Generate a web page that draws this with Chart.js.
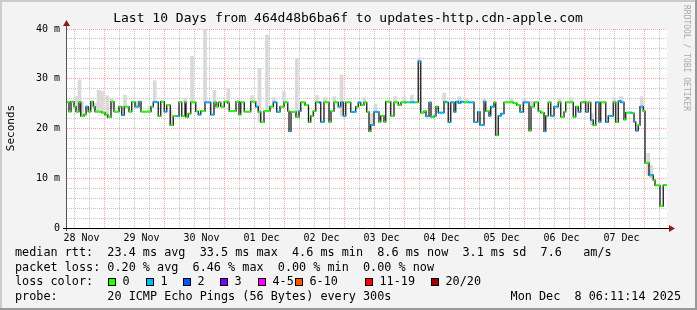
<!DOCTYPE html>
<html>
<head>
<meta charset="utf-8">
<script src="https://cdn.jsdelivr.net/npm/chart.js@4.4.0/dist/chart.umd.min.js"></script>
<style>
  html, body { margin: 0; padding: 0; background: #f3f3f3; }
</style>
</head>
<body>
<canvas id="grafico" width="697" height="310"></canvas>
<script>
// horas desde o inicio (28 Nov 06:11), mediana em ms, perda (pacotes de 20)
const tempos = [0, 0.8, 1.6, 2.8, 3.6, 4.8, 5.5, 6.8, 7.6, 8.5, 9.5, 10.5, 11.2, 13.9, 15.2, 16.3, 17.6, 18.8, 20.8, 21.9,
  22.9, 24.8, 25.9, 27.2, 28.8, 29.6, 33.6, 34.5, 36.5, 37.5, 38.9, 39.9, 41.3, 42.5, 43.9, 44.8, 45.9, 47.2, 47.6, 48.5,
  49.5, 51.5, 52.5, 53.5, 55.2, 57.5, 58.8, 59.6, 60.5, 61.5, 62.9, 64.3, 64.9, 67.6, 68.8, 69.5, 70.9, 73.5, 75.5, 76.5,
  77.5, 78.8, 81.2, 82.5, 83.9, 85.2, 86.8, 88.3, 88.8, 89.6, 91.6, 92.8, 93.5, 95.2, 96.6, 97.5, 98.5, 99.5, 100.8, 101.5,
  102.8, 104.8, 105.6, 106.8, 108.5, 109.5, 110.5, 111.5, 113.5, 115.5, 116.5, 117.5, 118.8, 119.9, 120.8, 121.5, 122.8, 124.8, 125.5, 126.8,
  127.5, 129.5, 130.8, 132.5, 133.6, 135.2, 135.9, 137.2, 139.2, 140.5, 141.5, 142.8, 143.6, 144.8, 145.6, 146.8, 147.6, 148.5, 150.8, 151.5,
  152.5, 153.5, 154.8, 155.5, 156.5, 157.5, 158.8, 160.3, 162.8, 164.3, 165.2, 166.8, 167.5, 168.8, 169.5, 170.8, 171.5, 172.5, 173.6, 174.8,
  178.5, 179.9, 181.2, 182.5, 184.8, 185.6, 186.9, 188.5, 189.5, 190.8, 191.5, 192.5, 193.5, 194.8, 196.5, 197.5, 198.8, 199.5, 202.5, 203.5,
  204.5, 205.5, 206.8, 207.5, 208.5, 209.5, 210.5, 211.5, 212.8, 213.5, 215.5, 216.5, 218.5, 219.5, 220.5, 221.5, 222.8, 223.5, 225.2, 226.1,
  226.8, 227.5, 228.5, 229.2, 230.5, 231.2, 232.8, 234.5, 235.2, 237.2, 238.5];
const mediana = [25.3, 23.4, 25.4, 24.4, 23.4, 25.3, 22.5, 22.8, 24.4, 23.4, 25.4, 24.4, 23.4, 23.2, 22.8, 22.3, 25.4, 23.4, 24.4, 22.7,
  24.4, 23.4, 25.3, 24.4, 25.4, 23.4, 24.4, 25.3, 22.5, 25.4, 23.4, 24.7, 20.7, 22.5, 22.5, 25.3, 22.5, 25.3, 22.35, 23.0,
  25.25, 23.45, 22.8, 23.5, 25.25, 22.8, 25.25, 24.4, 25.25, 24.4, 25.4, 25.1, 23.5, 25.4, 22.8, 25.25, 23.4, 25.4, 24.4, 23.35,
  21.3, 23.5, 24.4, 25.25, 23.35, 24.4, 25.25, 23.5, 19.45, 23.35, 22.35, 23.5, 25.25, 24.7, 21.3, 22.55, 23.5, 25.25, 25.25, 21.35,
  25.25, 21.35, 23.5, 25.25, 24.4, 25.25, 22.55, 25.25, 23.35, 24.4, 25.25, 24.7, 25.25, 23.35, 19.45, 20.7, 23.35, 21.35, 22.55, 21.35,
  25.4, 22.55, 25.25, 24.7, 25.25, 25.25, 25.25, 25.25, 25.25, 33.5, 23.2, 23.5, 22.45, 25.25, 22.35, 22.55, 24.4, 23.2, 25.4, 25.25,
  21.3, 25.25, 23.35, 25.4, 25.1, 25.4, 25.25, 25.25, 21.3, 23.35, 20.7, 25.4, 23.5, 22.55, 24.4, 25.25, 18.65, 22.55, 23.0, 25.25,
  25.1, 24.7, 23.35, 25.25, 19.6, 24.4, 25.25, 23.5, 23.2, 19.45, 22.55, 25.25, 22.55, 24.4, 25.25, 22.35, 23.35, 25.25, 22.35, 24.4,
  23.35, 25.25, 25.4, 23.35, 25.25, 21.7, 20.7, 25.25, 21.35, 25.25, 21.3, 22.55, 25.25, 21.3, 25.5, 25.25, 21.8, 23.2, 23.2, 23.1,
  21.35, 19.6, 20.7, 24.4, 23.5, 13.1, 10.6, 9.6, 8.55, 4.4, 8.6];
const perda = [0, 0, 0, 0, 0, 0, 0, 0, 1, 0, 0, 0, 0, 0, 0, 0, 0, 0, 0, 1,
  0, 0, 0, 1, 1, 0, 0, 1, 0, 0, 1, 0, 0, 0, 1, 0, 0, 0, 0, 0,
  0, 0, 1, 0, 1, 1, 0, 0, 0, 0, 0, 0, 0, 0, 0, 0, 0, 0, 1, 0,
  0, 0, 0, 1, 1, 0, 0, 0, 1, 0, 0, 1, 0, 0, 0, 0, 0, 0, 2, 1,
  0, 0, 0, 0, 1, 1, 1, 0, 1, 0, 1, 0, 0, 0, 0, 1, 1, 0, 0, 0,
  0, 0, 0, 0, 0, 1, 0, 1, 0, 1, 0, 0, 1, 1, 0, 1, 0, 1, 0, 1,
  1, 1, 1, 1, 1, 1, 0, 1, 1, 1, 1, 1, 0, 1, 1, 0, 0, 1, 1, 0,
  0, 0, 1, 1, 0, 0, 0, 0, 0, 1, 0, 0, 1, 1, 0, 0, 0, 0, 0, 0,
  1, 0, 0, 1, 0, 1, 0, 1, 1, 0, 1, 1, 0, 0, 1, 1, 0, 0, 1, 0,
  1, 1, 0, 1, 0, 0, 1, 0, 0, 0, 0];

// fumaça: dispersao dos pings (min / max em ms)
const fumacaT = [3.8, 5.0, 6.0, 11.6, 12.6, 14.0, 16.1, 17.9, 23.2, 27.9, 33.0, 35.1, 41.5, 47.2, 50.0, 55.2, 59.0, 64.5, 74.0, 77.0,
  80.0, 82.8, 86.8, 91.9, 93.4, 100.0, 103.2, 106.9, 109.8, 118.9, 122.0, 123.4, 131.2, 134.9, 138.0, 140.8, 150.9, 157.0, 159.9, 166.9,
  177.9, 183.0, 185.9, 197.0, 201.6, 210.0, 218.9, 221.6, 229.9, 232.5, 233.6];
const fumacaMin = [23.4, 24.0, 22.5, 23.4, 23.4, 23.2, 22.3, 24.0, 24.4, 24.4, 23.4, 25.3, 20.7, 25.3, 25.3, 25.3, 25.3, 25.1, 25.4, 21.3,
  23.5, 25.3, 25.3, 22.4, 23.5, 25.3, 25.3, 25.3, 22.6, 25.3, 20.7, 23.4, 25.3, 25.3, 25.3, 33.5, 25.4, 25.4, 25.3, 25.4,
  25.2, 25.3, 24.4, 25.3, 25.3, 20.7, 25.3, 25.3, 24.4, 10.6, 10.0];
const fumacaMax = [26.4, 29.8, 25.4, 25.1, 27.7, 27.5, 26.6, 26.1, 26.7, 25.4, 24.4, 29.6, 23.7, 26.1, 34.5, 40, 27.7, 28.0, 26.6, 32.1,
  38.8, 26.2, 27.4, 34.1, 24.1, 26.6, 26.2, 26.4, 30.8, 26.2, 23.0, 24.9, 26.4, 26.4, 26.7, 34.1, 27.1, 26.4, 25.9, 26.1,
  25.9, 26.1, 25.5, 26.0, 26.2, 23.0, 26.2, 26.4, 26.4, 15.0, 12.6];

const dias = ['28 Nov', '29 Nov', '30 Nov', '01 Dec', '02 Dec', '03 Dec', '04 Dec', '05 Dec', '06 Dec', '07 Dec'];
const meioDia = 5.82; // primeiro meio-dia (horas apos o inicio)
const ticksY = [0, 2, 4, 6, 8, 10, 12, 14, 16, 18, 20, 22, 24, 26, 28, 30, 32, 34, 36, 38, 40];

const perdaRotulos = ['0', '1', '2', '3', '4-5', '6-10', '11-19', '20/20'];
const coresPerda = ['#26ff00', '#00b8ff', '#0059ff', '#7e00ff', '#ff00ff', '#ff5500', '#ff0000', '#a10000'];

const FIM = 240;
const MONO = '"DejaVu Sans Mono", monospace';
const corMenor = 'rgba(150,150,150,0.55)';
const corMaior = 'rgba(255,70,70,0.5)';

// linhas de grade verticais a cada 6h
const ticksX = [];
for (let k = 0; meioDia + 6 * k < FIM; k++) ticksX.push(meioDia + 6 * k);

// linha preta (degraus) e trechos coloridos por perda
const pontos = tempos.map((t, i) => ({ x: t, y: mediana[i] }));
pontos.push({ x: FIM, y: mediana[mediana.length - 1] });

const trechos = [];
tempos.forEach((t, i) => {
  const fim = i < tempos.length - 1 ? tempos[i + 1] : FIM;
  trechos.push({ x: t, y: mediana[i] }, { x: fim, y: mediana[i] }, { x: fim, y: null });
});

const fumaca = fumacaT.map((t, i) => ({ x: t, y: [fumacaMin[i], fumacaMax[i]] }));

const moldura = {
  id: 'moldura',
  beforeDraw(chart) {
    const { ctx, chartArea: a } = chart;
    ctx.save();
    ctx.fillStyle = '#f3f3f3';
    ctx.fillRect(0, 0, 697, 310);
    ctx.fillStyle = '#cbcbcb';
    ctx.fillRect(0, 0, 697, 2);
    ctx.fillRect(0, 0, 2, 310);
    ctx.fillStyle = '#999999';
    ctx.fillRect(0, 308, 697, 2);
    ctx.fillRect(695, 0, 2, 310);
    ctx.fillStyle = '#ffffff';
    ctx.fillRect(a.left, a.top, a.right - a.left, a.bottom - a.top);
    ctx.restore();
  },
  afterDraw(chart) {
    const { ctx, chartArea: a } = chart;
    ctx.save();
    // eixos
    ctx.strokeStyle = '#555';
    ctx.lineWidth = 1;
    ctx.beginPath();
    ctx.moveTo(a.left - 0.5, a.bottom + 3);
    ctx.lineTo(a.left - 0.5, a.top - 5);
    ctx.stroke();
    ctx.strokeStyle = '#000';
    ctx.beginPath();
    ctx.moveTo(a.left - 4, a.bottom + 0.5);
    ctx.lineTo(a.right + 5, a.bottom + 0.5);
    ctx.stroke();
    ctx.fillStyle = '#8b1a1a';
    ctx.beginPath();
    ctx.moveTo(a.left - 4, a.top - 3);
    ctx.lineTo(a.left + 3, a.top - 3);
    ctx.lineTo(a.left - 0.5, a.top - 9);
    ctx.fill();
    ctx.beginPath();
    ctx.moveTo(a.right + 2, a.bottom - 3);
    ctx.lineTo(a.right + 2, a.bottom + 4);
    ctx.lineTo(a.right + 8, a.bottom + 0.5);
    ctx.fill();

    // titulo
    ctx.fillStyle = '#000';
    ctx.font = '13px ' + MONO;
    ctx.textAlign = 'center';
    ctx.textBaseline = 'middle';
    ctx.fillText('Last 10 Days from 464d48b6ba6f to updates-http.cdn-apple.com', 348, 19);

    // rotulo do eixo y
    ctx.save();
    ctx.translate(11, 128);
    ctx.rotate(-Math.PI / 2);
    ctx.font = '11px ' + MONO;
    ctx.fillText('Seconds', 0, 0);
    ctx.restore();

    // marca d'agua
    ctx.save();
    ctx.translate(686, 5);
    ctx.rotate(Math.PI / 2);
    ctx.font = '8px ' + MONO;
    ctx.fillStyle = '#a8a8a8';
    ctx.textAlign = 'left';
    ctx.fillText('RRDTOOL / TOBI OETIKER', 0, 0);
    ctx.restore();

    // legenda
    ctx.font = '11.8px ' + MONO;
    ctx.textAlign = 'left';
    ctx.fillStyle = '#000';
    ctx.fillText('median rtt:  23.4 ms avg  33.5 ms max  4.6 ms min  8.6 ms now  3.1 ms sd  7.6   am/s', 15, 253);
    ctx.fillText('packet loss: 0.20 % avg  6.46 % max  0.00 % min  0.00 % now', 15, 268);
    ctx.fillText('loss color:', 15, 282);
    ctx.fillText('probe:       20 ICMP Echo Pings (56 Bytes) every 300s', 15, 297);
    ctx.textAlign = 'right';
    ctx.fillText('Mon Dec  8 06:11:14 2025', 681, 297);
    ctx.textAlign = 'left';
    const caixas = [108, 146, 183, 220, 258, 295, 365, 431];
    perdaRotulos.forEach((r, i) => {
      ctx.fillStyle = coresPerda[i];
      ctx.fillRect(caixas[i], 278, 8, 8);
      ctx.strokeStyle = '#000';
      ctx.strokeRect(caixas[i] + 0.5, 278.5, 7, 7);
      ctx.fillStyle = '#000';
      ctx.fillText(r, caixas[i] + 14.5, 282);
    });
    ctx.restore();
  }
};

new Chart(document.getElementById('grafico'), {
  type: 'line',
  data: {
    datasets: [
      {
        type: 'line',
        data: trechos,
        borderColor: coresPerda[0],
        borderWidth: 2,
        pointRadius: 0,
        spanGaps: false,
        order: 0,
        segment: {
          borderColor: ctx => coresPerda[perda[Math.floor(ctx.p0DataIndex / 3)]]
        }
      },
      {
        type: 'line',
        data: pontos,
        borderColor: '#1a1a1a',
        borderWidth: 1.3,
        pointRadius: 0,
        stepped: true,
        order: 1
      },
      {
        type: 'bar',
        data: fumaca,
        backgroundColor: '#d9d9d9',
        borderWidth: 0,
        barThickness: 3,
        grouped: false,
        order: 2
      }
    ]
  },
  options: {
    responsive: false,
    animation: false,
    events: [],
    layout: { padding: { top: 29, right: 30, bottom: 62, left: 0 } },
    plugins: { legend: { display: false }, tooltip: { enabled: false }, title: { display: false } },
    scales: {
      x: {
        type: 'linear',
        min: 0,
        max: FIM,
        offset: false,
        afterBuildTicks: s => { s.ticks = ticksX.map(v => ({ value: v })); },
        afterFit: s => { s.height = 20; },
        ticks: {
          autoSkip: false,
          maxRotation: 0,
          padding: 4,
          color: '#000',
          font: { family: MONO, size: 10 },
          callback: (v, i) => (i % 4 === 0 ? dias[i / 4] : '')
        },
        grid: {
          drawTicks: false,
          lineWidth: 1,
          color: ctx => (ctx.index % 4 === 2 ? corMaior : corMenor)
        },
        border: { display: false, dash: [1, 1] }
      },
      y: {
        min: 0,
        max: 40,
        afterBuildTicks: s => { s.ticks = ticksY.map(v => ({ value: v })); },
        afterFit: s => { s.width = 67; },
        ticks: {
          autoSkip: false,
          padding: 7,
          color: '#000',
          font: { family: MONO, size: 10 },
          callback: v => (v % 10 === 0 ? (v === 0 ? '0' : v + ' m') : '')
        },
        grid: {
          drawTicks: false,
          lineWidth: 1,
          color: ctx => (ctx.tick && ctx.tick.value % 10 === 0 ? corMaior : corMenor)
        },
        border: { display: false, dash: [1, 1] }
      }
    }
  },
  plugins: [moldura]
});
</script>
</body>
</html>
